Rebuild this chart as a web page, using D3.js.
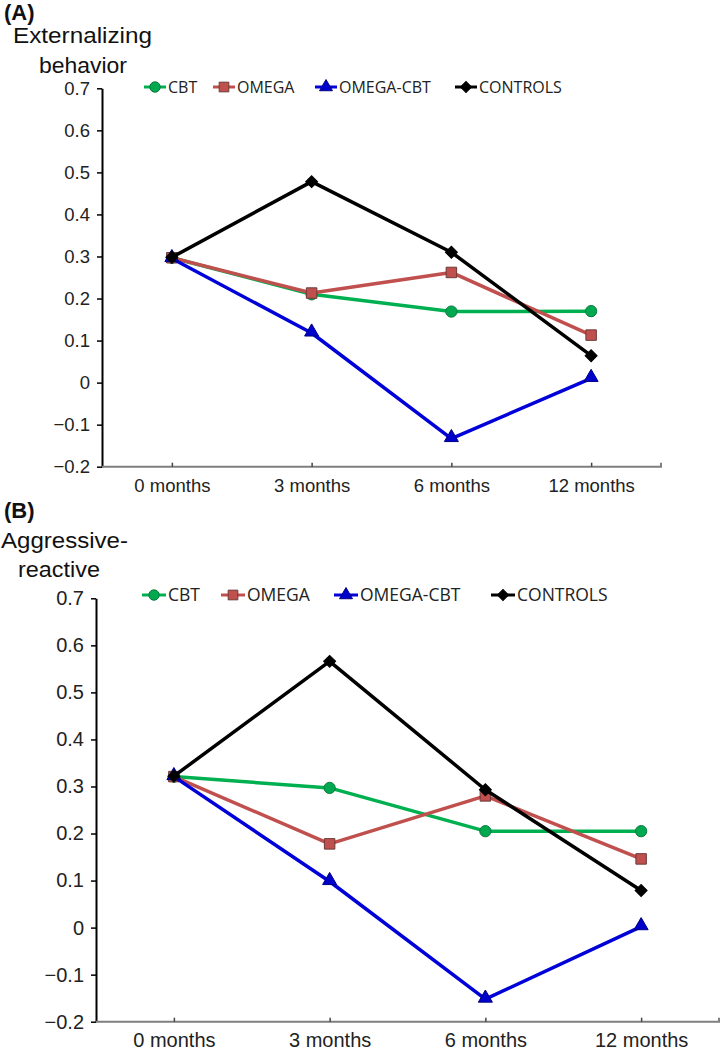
<!DOCTYPE html>
<html>
<head>
<meta charset="utf-8">
<script src="https://cdn.jsdelivr.net/npm/d3@7"></script>
<style>
  html, body { margin: 0; padding: 0; background: #fff; }
  svg { display: block; }
</style>
</head>
<body>
<svg id="chart" width="720" height="1050"></svg>
<script>
// ---------- data ----------
const months = ["0 months", "3 months", "6 months", "12 months"];
const yTicks = [0.7, 0.6, 0.5, 0.4, 0.3, 0.2, 0.1, 0, -0.1, -0.2];
const seriesNames = ["CBT", "OMEGA", "OMEGA-CBT", "CONTROLS"];

// (A) Externalizing behavior
const extCBT      = [0.297, 0.210, 0.169, 0.170];
const extOMEGA    = [0.297, 0.213, 0.262, 0.113];
const extOMEGACBT = [0.295, 0.118, -0.133, 0.010];
const extCONTROLS = [0.298, 0.478, 0.310, 0.064];

// (B) Aggressive-reactive
const aggCBT      = [0.321, 0.297, 0.205, 0.205];
const aggOMEGA    = [0.321, 0.178, 0.280, 0.146];
const aggOMEGACBT = [0.321, 0.098, -0.152, 0.002];
const aggCONTROLS = [0.322, 0.566, 0.293, 0.079];

// ---------- styles ----------
const styles = {
  "CBT":       { line: "#00b050", fill: "#00a850", stroke: "#0a7a3a", symbol: d3.symbolCircle,   size: 100, rot: 0 },
  "OMEGA":     { line: "#c0504d", fill: "#c0504d", stroke: "#6b3a38", symbol: d3.symbolSquare,   size: 110, rot: 0 },
  "OMEGA-CBT": { line: "#0000d8", fill: "#0000cc", stroke: "#000080", symbol: d3.symbolTriangle, size: 85,  rot: 0 },
  "CONTROLS":  { line: "#000000", fill: "#000000", stroke: "#000000", symbol: d3.symbolSquare,   size: 72,  rot: 45 }
};

const svg = d3.select("#chart");
const fmt = d => (Math.abs(d) < 1e-9 ? "0" : d3.format(".1f")(d));

function drawPanel(cfg) {
  const g = svg.append("g");
  const x = d3.scalePoint().domain(months).range(cfg.xRange).padding(0.5);
  const y = d3.scaleLinear().domain([-0.2, 0.7]).range(cfg.yRange);

  // panel letter & y label
  g.append("text").attr("x", cfg.letterPos[0]).attr("y", cfg.letterPos[1])
    .attr("font-family", "Liberation Sans, Arial, sans-serif").attr("font-weight", "bold")
    .attr("font-size", 22).attr("fill", "#111").text(cfg.letter);
  cfg.ylabel.forEach(l => {
    g.append("text").attr("x", l.x).attr("y", l.y)
      .attr("font-family", "Liberation Sans, Arial, sans-serif")
      .attr("font-size", 22).attr("fill", "#111")
      .attr("textLength", l.w).attr("lengthAdjust", "spacingAndGlyphs")
      .text(l.t);
  });

  // y axis
  const yAxis = g.append("g").attr("transform", `translate(${cfg.xRange[0]},0)`)
    .call(d3.axisLeft(y).tickValues(yTicks).tickFormat(fmt).tickSizeInner(5).tickSizeOuter(0).tickPadding(7));
  yAxis.select(".domain").attr("stroke", "#000").attr("stroke-width", 2);
  yAxis.selectAll(".tick line").attr("stroke", "#000").attr("stroke-width", 1.5);
  yAxis.selectAll(".tick text").attr("font-family", "Liberation Sans, Arial, sans-serif")
    .attr("font-size", cfg.tickFont).attr("fill", "#222");

  // x axis
  const xAxis = g.append("g").attr("transform", `translate(0,${cfg.yRange[0]})`)
    .call(d3.axisBottom(x).tickSizeInner(-4).tickSizeOuter(0).tickPadding(cfg.xPad));
  xAxis.select(".domain").attr("stroke", "#7f7f7f").attr("stroke-width", 2)
    .attr("d", `M${cfg.xRange[0]},0H${cfg.xRange[1]}V-4`);
  xAxis.selectAll(".tick line").attr("stroke", "#444").attr("stroke-width", 1.5);
  xAxis.selectAll(".tick text").attr("font-family", "Liberation Sans, Arial, sans-serif")
    .attr("font-size", cfg.tickFont).attr("fill", "#222");

  // lines and markers
  const line = d3.line().x((d, i) => x(months[i])).y(d => y(d));
  seriesNames.forEach((name, si) => {
    const st = styles[name];
    const vals = cfg.series[si];
    g.append("path").datum(vals).attr("d", line)
      .attr("fill", "none").attr("stroke", st.line).attr("stroke-width", 3.5)
      .attr("stroke-linejoin", "round");
    g.selectAll(null).data(vals).enter().append("path")
      .attr("d", d3.symbol().type(st.symbol).size(st.size))
      .attr("transform", (d, i) => {
        const dy = name === "OMEGA-CBT" ? -1 : 0;
        return `translate(${x(months[i])},${y(d) + dy}) rotate(${st.rot})`;
      })
      .attr("fill", st.fill).attr("stroke", st.stroke).attr("stroke-width", 1);
  });

  // legend
  seriesNames.forEach((name, si) => {
    const st = styles[name];
    const lg = cfg.legend[si];
    g.append("line").attr("x1", lg.x1).attr("x2", lg.x2)
      .attr("y1", cfg.legendY).attr("y2", cfg.legendY)
      .attr("stroke", st.line).attr("stroke-width", 3);
    g.append("path").attr("d", d3.symbol().type(st.symbol).size(st.size * 0.85))
      .attr("transform", `translate(${(lg.x1 + lg.x2) / 2},${cfg.legendY}) rotate(${st.rot})`)
      .attr("fill", st.fill).attr("stroke", st.stroke).attr("stroke-width", 1);
    g.append("text").attr("x", lg.tx).attr("y", cfg.legendY)
      .attr("dy", "0.36em")
      .attr("font-family", "Open Sans, Noto Sans, sans-serif")
      .attr("font-size", cfg.legendFont).attr("fill", "#222").text(name);
  });
}

drawPanel({
  letter: "(A)", letterPos: [4, 20],
  ylabel: [{ t: "Externalizing", x: 13, y: 43, w: 139 }, { t: "behavior", x: 39, y: 73, w: 88 }],
  xRange: [102, 661], yRange: [466.7, 88.3],
  tickFont: 18.5, xPad: 12,
  legendY: 87, legendFont: 16,
  legend: [
    { x1: 144, x2: 166, tx: 168 },
    { x1: 213, x2: 235, tx: 237 },
    { x1: 315, x2: 337, tx: 339 },
    { x1: 455, x2: 477, tx: 479 }
  ],
  series: [extCBT, extOMEGA, extOMEGACBT, extCONTROLS]
});

drawPanel({
  letter: "(B)", letterPos: [4, 518],
  ylabel: [{ t: "Aggressive-", x: 1, y: 548, w: 127 }, { t: "reactive", x: 18, y: 577, w: 82 }],
  xRange: [96, 719], yRange: [1021.7, 598.3],
  tickFont: 20, xPad: 11,
  legendY: 595, legendFont: 17.5,
  legend: [
    { x1: 142, x2: 166, tx: 168 },
    { x1: 221, x2: 245, tx: 247 },
    { x1: 334, x2: 358, tx: 360 },
    { x1: 491, x2: 515, tx: 517 }
  ],
  series: [aggCBT, aggOMEGA, aggOMEGACBT, aggCONTROLS]
});
</script>
</body>
</html>
